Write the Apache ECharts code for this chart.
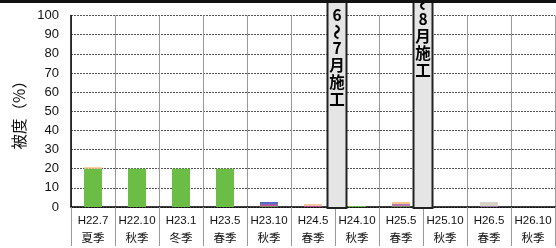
<!DOCTYPE html>
<html><head><meta charset="utf-8">
<script src="https://cdn.jsdelivr.net/npm/echarts@6/dist/echarts.min.js"></script>
<style>html,body{margin:0;padding:0;background:#fff}#c{width:556px;height:248px}</style>
</head><body><div id="c"></div>
<script>
var categories = ['H22.7','H22.10','H23.1','H23.5','H23.10','H24.5','H24.10','H25.5','H25.10','H26.5','H26.10'];
var seasons = ['夏季','秋季','冬季','春季','秋季','春季','秋季','春季','秋季','春季','秋季'];
var yTicks = [0,10,20,30,40,50,60,70,80,90,100];
var greenVals   = [20, 20, 20, 20, 0.4, 0,   0.5, 0.4, 0, 0,   0];
var magentaVals = [0,  0,  0,  0,  0.6, 0.5, 0,   0.5, 0, 0,   0];
var purpleVals  = [0,  0,  0,  0,  0.6, 0.2, 0,   0.6, 0, 0.4, 0];
var blueVals    = [0,  0,  0,  0,  1.0, 0,   0,   0,   0, 0,   0];
var peachVals   = [0.8,0,  0,  0,  0,   0.8, 0,   1.1, 0, 0,   0];
var greyVals    = [0,  0,  0,  0,  0,   0,   0,   0,   0, 2.2, 0];
var works = [
  {after: 5, chars: ['6','〜','7','月','施','工'], top: 7, dx: 2},
  {after: 7, chars: ['7','〜','8','月','施','工'], top: -22, dx: 0}
];

var font = '"Liberation Sans","Noto Sans CJK JP",sans-serif';
var chart = echarts.init(document.getElementById('c'));
function ser(name, data, color){
  return {name:name, type:'bar', stack:'a', data:data, barWidth:18,
    itemStyle:{color:color}, silent:true};
}
chart.setOption({
  animation:false,
  grid:{left:71, right:1, top:15.5, bottom:39},
  xAxis:{type:'category', data:categories,
    axisLine:{lineStyle:{color:'#000', width:1.5}},
    axisTick:{show:true, length:39, lineStyle:{color:'#999', width:1}},
    splitLine:{show:true, lineStyle:{color:'#999', width:1}},
    axisLabel:{interval:0, margin:5, fontFamily:font, fontSize:11.5, color:'#111', lineHeight:18,
      formatter:function(v, i){ return v + '\n' + seasons[i]; }}
  },
  yAxis:{type:'value', min:0, max:100, interval:10,
    name:'被度（%）', nameLocation:'middle', nameGap:44, nameRotate:90,
    nameTextStyle:{fontFamily:'"Noto Sans CJK JP",sans-serif', fontSize:15.5, color:'#111'},
    axisLine:{show:true, lineStyle:{color:'#000', width:1.5}},
    axisTick:{show:false},
    splitLine:{lineStyle:{color:'#555', type:[2,1], width:1}},
    axisLabel:{margin:12, fontFamily:font, fontSize:13, color:'#111',
      formatter:function(v){ return yTicks.indexOf(v) >= 0 ? String(v) : ''; }}
  },
  series:[
    ser('緑', greenVals, '#6cbd45'),
    ser('桃', magentaVals, '#c4479c'),
    ser('紫', purpleVals, '#9660b4'),
    ser('青', blueVals, '#5268c0'),
    ser('橙', peachVals, '#f8c48e'),
    ser('灰', greyVals, '#d6d4c6')
  ]
});

function drawBoxes(){
  var els = [{type:'rect', shape:{x:0,y:0,width:556,height:3}, style:{fill:'#111'}, z:100}];
  works.forEach(function(w){
    var p0 = chart.convertToPixel({xAxisIndex:0}, categories[w.after]);
    var p1 = chart.convertToPixel({xAxisIndex:0}, categories[w.after+1]);
    var cx = (p0 + p1) / 2 + w.dx;
    var y0 = chart.convertToPixel({yAxisIndex:0}, 0);
    els.push({type:'rect', shape:{x:cx-9.5, y:-5, width:19, height:y0+1+5},
      style:{fill:'#e5e5e5', stroke:'#222', lineWidth:2}, z:50});
    var y = w.top;
    w.chars.forEach(function(ch){
      var isT = ch === '〜';
      var h = isT ? 16 : 17;
      els.push({type:'text', x:cx, y:y + h/2, rotation: isT ? -Math.PI/2 : 0,
        style:{text:ch, fontFamily:'"Noto Sans CJK JP",sans-serif', fontWeight:'bold', fontSize:15.5,
          fill:'#000', align:'center', verticalAlign:'middle'}, z:60});
      y += h;
    });
  });
  chart.setOption({graphic:els});
}
drawBoxes();
</script></body></html>
